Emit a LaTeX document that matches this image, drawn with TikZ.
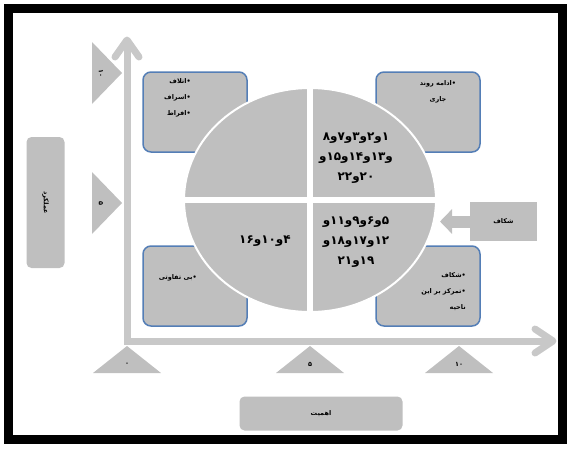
\documentclass[tikz,border=0pt]{standalone}
\usepackage{fontspec}
\newfontfamily\fa[Script=Arabic]{DejaVu Sans}
\TeXXeTstate=1
\usetikzlibrary{shapes.geometric,arrows.meta}
\definecolor{cellgray}{RGB}{191,191,191}
\definecolor{axisgray}{RGB}{200,200,200}
\definecolor{rim}{RGB}{84,126,182}
\newcommand{\rl}[1]{\beginR #1\endR}
\tikzset{
  cell/.style={draw=rim, line width=1.5pt, fill=cellgray, rounded corners=8pt, minimum width=104pt, minimum height=80pt},
  tag/.style={fill=cellgray, rounded corners=5pt, font=\fa\bfseries\fontsize{6.5}{8}\selectfont},
  note/.style={font=\fa\bfseries\fontsize{6.5}{16}\selectfont, align=right, inner sep=0pt},
  big/.style={font=\fa\bfseries\fontsize{12}{20}\selectfont, align=center, inner sep=0pt},
  axis/.style={draw=axisgray, line width=7pt},
}
\begin{document}
\begin{tikzpicture}[x=1pt,y=-1pt]
  \useasboundingbox (0,0) rectangle (571,448);
  \draw[line width=9pt] (8.5,8.5) rectangle (562.5,439.5);
  \coordinate (o) at (127,341);
  \coordinate (ytip) at (127,40);
  \coordinate (xtip) at (553,341);
  \draw[axis, line join=miter] (ytip) -- (o) -- (xtip);
  \draw[axis, line cap=round, line join=round] (ytip) ++(-12,17) -- (ytip) -- ++(12,17);
  \draw[axis, line cap=round, line join=round] (xtip) ++(-18,-12) -- (xtip) -- ++(-18,12);
  \foreach \y/\t [count=\i] in {73/۱۰, 203/۵} {
    \fill[cellgray] (92,\y-31) -- (122,\y) -- (92,\y+31) -- cycle;
    \node[note, rotate=-90] (yt\i) at (101,\y) {\t};
  }
  \foreach \x/\t [count=\i] in {127/۰, 310/۵, 459/۱۰} {
    \fill[cellgray] (\x-34,373) -- (\x,346) -- (\x+34,373) -- cycle;
    \node[note] (xt\i) at (\x,364) {\t};
  }
  \node[tag, rotate=-90, minimum width=131pt, minimum height=38pt] (perf) at (45.5,202.5) {عملکرد};
  \node[tag, minimum width=163pt, minimum height=34pt] (imp) at (321,413.5) {اهمیت};
  \foreach \x/\y/\n in {195/112/tl, 428/112/tr, 195/286/bl, 428/286/br}
    \node[cell] (\n) at (\x,\y) {};
  \node[ellipse, fill=cellgray, draw=white, line width=2pt, minimum width=252pt, minimum height=224pt, inner sep=0pt] (pie) at (310,200) {};
  \draw[white, line width=6pt] (pie.north) -- (pie.south);
  \draw[white, line width=6pt] (pie.west) -- (pie.east);
  \node[big] (q1) at (356,158) {\rl{۱و۲و۳و۷و۸}\\\rl{و۱۳و۱۴و۱۵و}\\\rl{۲۰و۲۲}};
  \node[big] (q4) at (356,242) {\rl{۵و۶و۹و۱۱و}\\\rl{۱۲و۱۷و۱۸و}\\\rl{۱۹و۲۱}};
  \node[big] (q3) at (265,241) {\rl{۴و۱۰و۱۶}};
  \node[note, anchor=north east] (tlnote) at (191,78) {\rl{•اتلاف}\\\rl{•اسراف}\\\rl{•افراط}};
  \node[note, align=center, anchor=north] (trnote) at (438,80) {\rl{•ادامه روند}\\\rl{جاری}};
  \node[note, anchor=east] (blnote) at (197,278) {\rl{•بی تفاوتی}};
  \node[note, anchor=north east] (brnote) at (466,272) {\rl{•شکاف}\\\rl{•تمرکز بر این}\\\rl{ناحیه}};
  \node[tag, rounded corners=0pt, minimum width=67pt, minimum height=39pt] (rift) at (503.5,221.5) {شکاف};
  \draw[cellgray, line width=12pt, shorten >=3pt, -{Triangle[length=12pt,width=24pt]}] (rift.west) -- (rift.west -| pie.east);
\end{tikzpicture}
\end{document}
